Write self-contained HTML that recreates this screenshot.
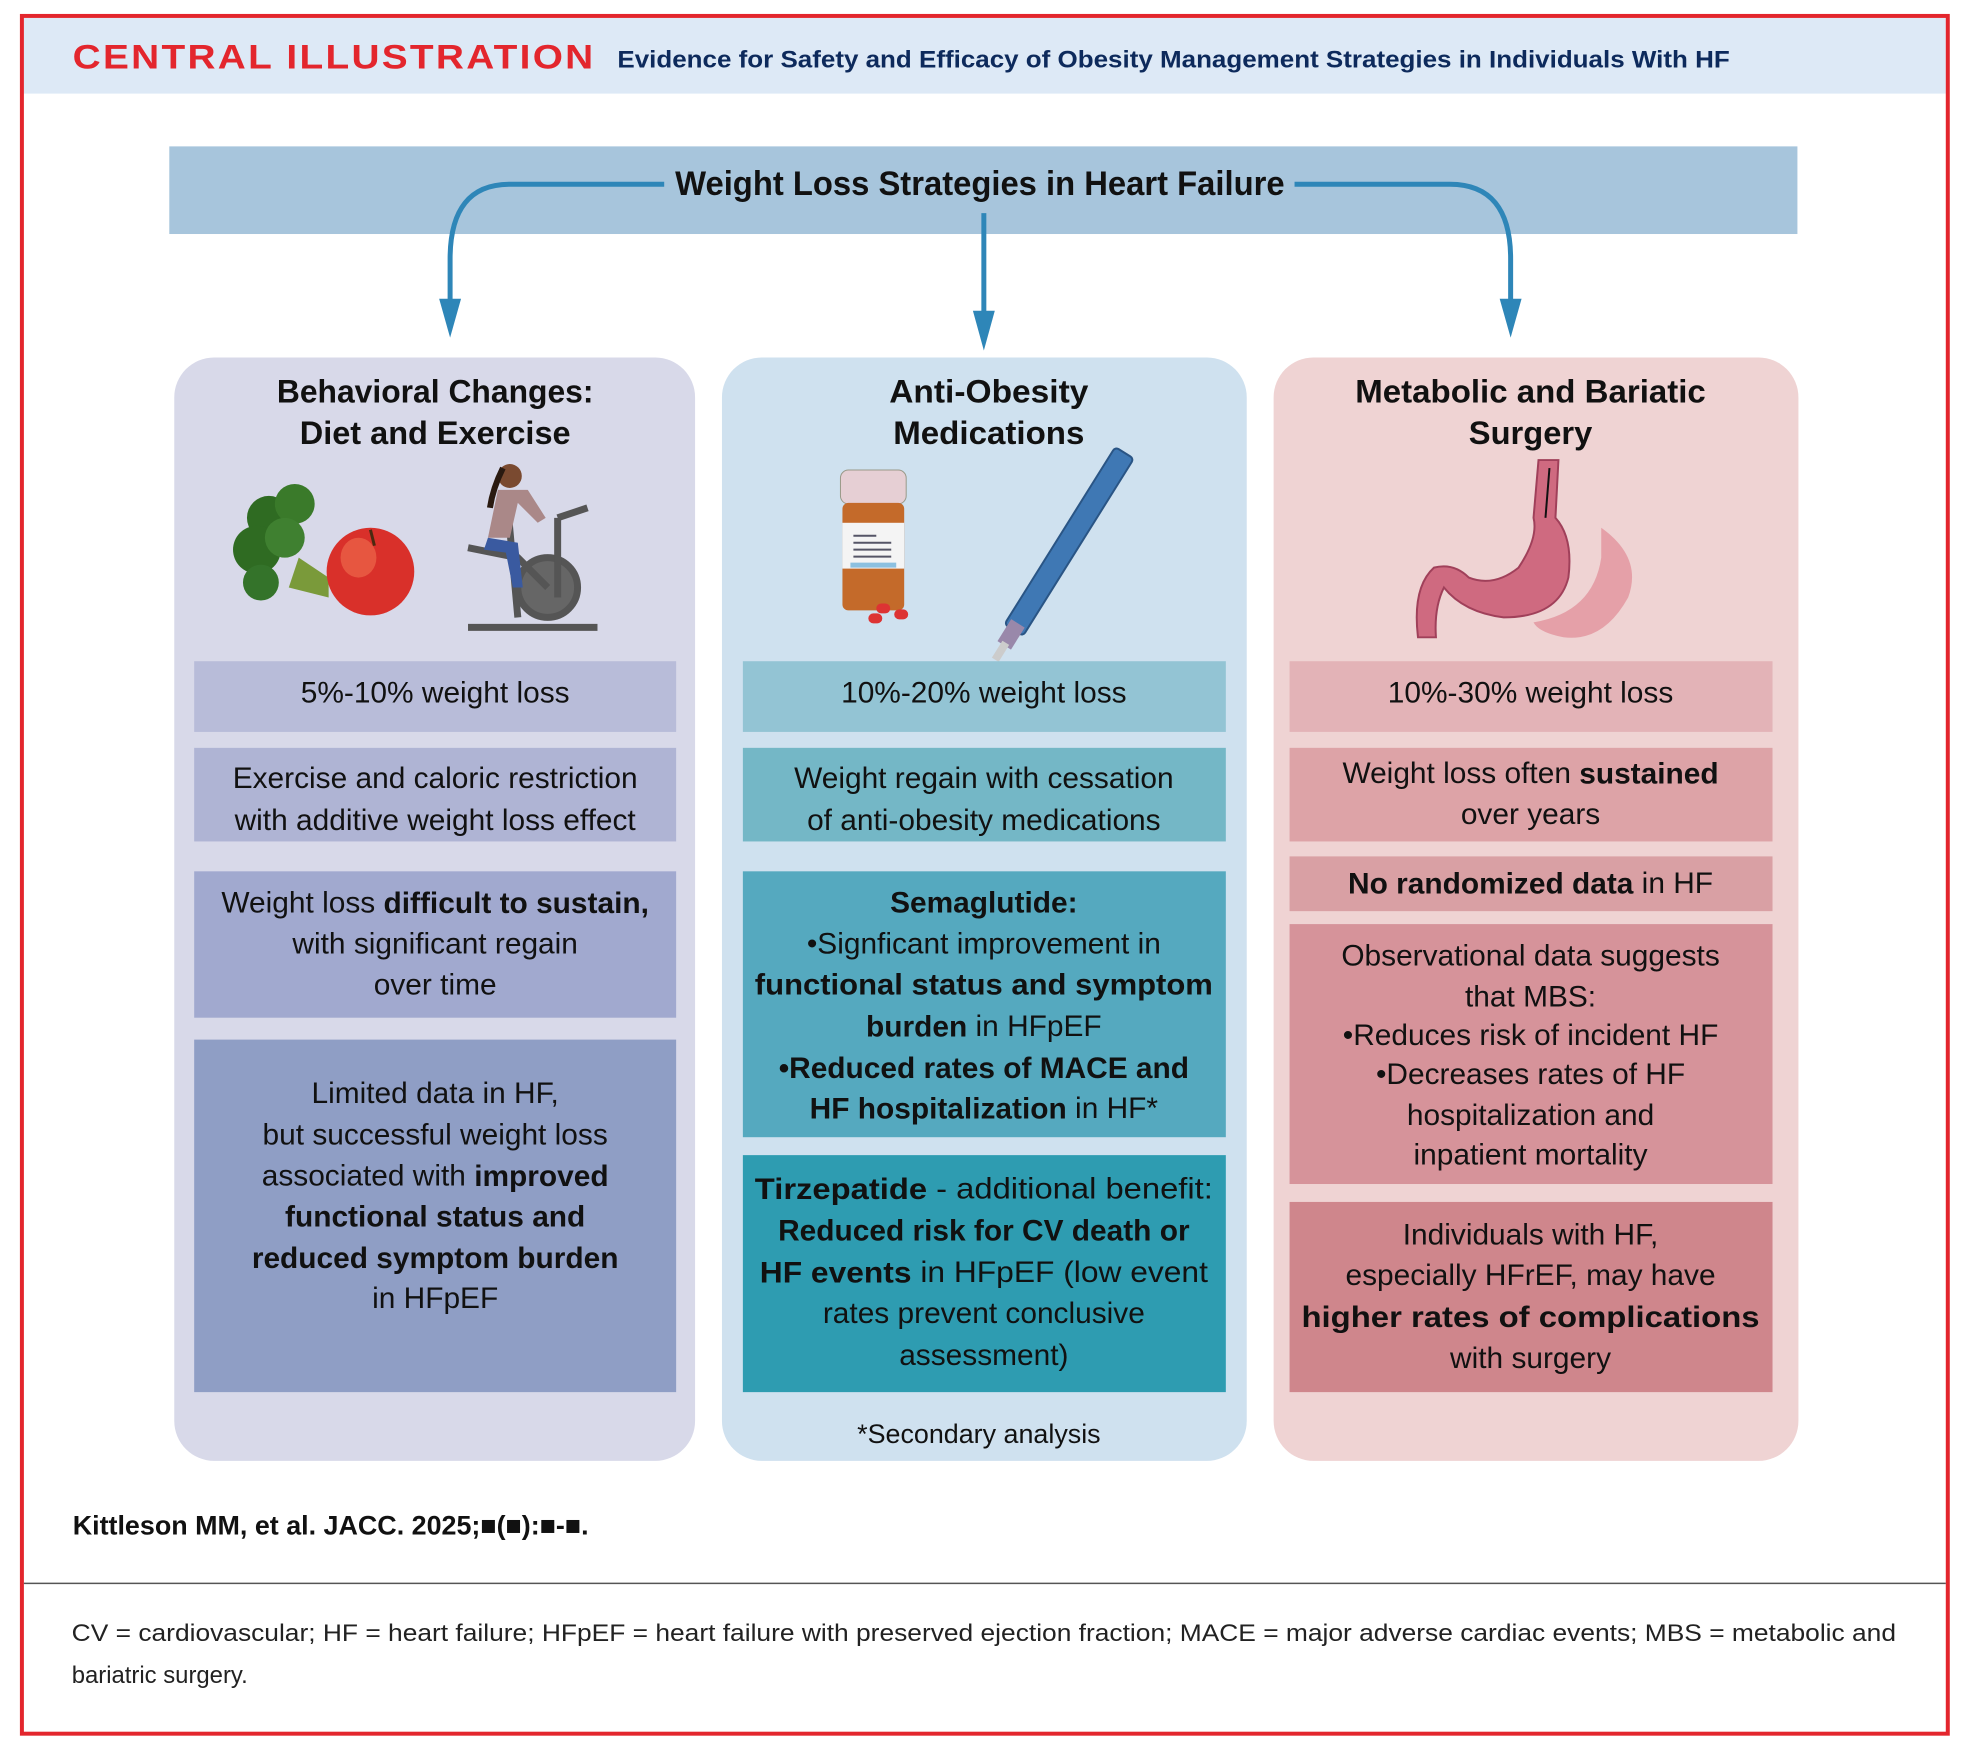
<!DOCTYPE html>
<html><head><meta charset="utf-8"><style>
html,body{margin:0;padding:0;background:#fff;}
svg{display:block;}
text{font-family:"Liberation Sans",sans-serif;}
</style></head><body>
<svg width="1973" height="1748" viewBox="0 0 1973 1748" xmlns="http://www.w3.org/2000/svg">
<rect x="0" y="0" width="1973" height="1748" fill="#fff"/>
<g transform="scale(0.9958)">
<!-- header -->
<rect x="24" y="18" width="1930" height="76" fill="#dde9f6"/>
<rect x="22" y="16" width="1934" height="1725" fill="none" stroke="#e3262d" stroke-width="4"/>
<text x="73" y="69" font-size="34" font-weight="bold" fill="#e3262d" textLength="525" lengthAdjust="spacingAndGlyphs" letter-spacing="2">CENTRAL ILLUSTRATION</text>
<text x="620" y="68" font-size="24" font-weight="bold" fill="#0d2a5c" textLength="1117" lengthAdjust="spacingAndGlyphs">Evidence for Safety and Efficacy of Obesity Management Strategies in Individuals With HF</text>

<!-- banner -->
<rect x="170" y="147" width="1635" height="88" fill="#a7c5dc"/>
<g fill="none" stroke="#2e86b8" stroke-width="5">
<path d="M667 185 H512 Q452 185 452 260 V305"/>
<path d="M1300 185 H1456 Q1517 185 1517 260 V305"/>
<path d="M988 214 V318"/>
</g>
<g fill="#2e86b8">
<polygon points="441,300 463,300 452,339"/>
<polygon points="1506,300 1528,300 1517,339"/>
<polygon points="977,312 999,312 988,352"/>
</g>
<text x="984" y="196" font-size="34" font-weight="bold" fill="#111" text-anchor="middle" textLength="612" lengthAdjust="spacingAndGlyphs">Weight Loss Strategies in Heart Failure</text>

<!-- panels -->
<rect x="175" y="359" width="523" height="1108" rx="40" fill="#d8d9e9"/>
<rect x="725" y="359" width="527" height="1108" rx="40" fill="#cfe1ef"/>
<rect x="1279" y="359" width="527" height="1108" rx="40" fill="#efd3d3"/>

<g font-size="33" font-weight="bold" fill="#111" text-anchor="middle">
<text x="437" y="404" textLength="318" lengthAdjust="spacingAndGlyphs">Behavioral Changes:</text>
<text x="437" y="446" textLength="272" lengthAdjust="spacingAndGlyphs">Diet and Exercise</text>
<text x="993" y="404" textLength="200" lengthAdjust="spacingAndGlyphs">Anti-Obesity</text>
<text x="993" y="446" textLength="192" lengthAdjust="spacingAndGlyphs">Medications</text>
<text x="1537" y="404" textLength="352" lengthAdjust="spacingAndGlyphs">Metabolic and Bariatic</text>
<text x="1537" y="446" textLength="124" lengthAdjust="spacingAndGlyphs">Surgery</text>
</g>

<!-- illustrations: broccoli + apple -->
<g>
<path d="M300 560 L330 580 L330 600 L290 590 Z" fill="#7a9a3a"/>
<circle cx="270" cy="520" r="22" fill="#2f6b22"/>
<circle cx="296" cy="506" r="20" fill="#3a7a2a"/>
<circle cx="258" cy="552" r="24" fill="#2f6b22"/>
<circle cx="262" cy="585" r="18" fill="#34732a"/>
<circle cx="286" cy="540" r="20" fill="#3f8030"/>
<ellipse cx="372" cy="574" rx="44" ry="44" fill="#d9302a"/>
<ellipse cx="360" cy="560" rx="18" ry="20" fill="#f07050" opacity=".6"/>
<path d="M372 532 L376 548" stroke="#4a2a10" stroke-width="3"/>
</g>
<!-- bike -->
<g stroke="#555" stroke-width="7" fill="none">
<circle cx="550" cy="590" r="30" fill="#666"/>
<path d="M470 550 L520 560 L550 590 M510 510 L520 620 M470 630 L600 630 M560 520 L560 600 M560 520 L590 510"/>
</g>
<circle cx="512" cy="478" r="12" fill="#7a4a30"/>
<path d="M500 492 L530 492 L548 520 L540 525 L520 505 L512 540 L490 540 Z" fill="#a88"/>
<path d="M490 540 L520 545 L525 590 L515 590 L508 555 L486 552 Z" fill="#3a5aa0"/>
<path d="M505 470 Q495 490 492 510" stroke="#2a1a10" stroke-width="6" fill="none"/>

<!-- pill bottle -->
<rect x="844" y="472" width="66" height="34" rx="8" fill="#e6cfd4" stroke="#998" stroke-width="1"/>
<rect x="846" y="505" width="62" height="108" rx="6" fill="#c46a2a"/>
<rect x="846" y="525" width="62" height="46" fill="#f4f4f4"/>
<g stroke="#556" stroke-width="2"><path d="M857 538 H880 M857 545 H895 M857 552 H895 M857 559 H895"/></g>
<rect x="854" y="565" width="46" height="5" fill="#8cc0e0"/>
<g fill="#d33"><rect x="880" y="606" width="14" height="10" rx="5"/><rect x="898" y="612" width="14" height="10" rx="5"/><rect x="872" y="616" width="14" height="10" rx="5"/></g>
<!-- pen -->
<g transform="translate(1071,548) rotate(-58)">
<rect x="-100" y="-11" width="210" height="22" rx="4" fill="#3f78b4" stroke="#2a5585" stroke-width="2"/>
<rect x="-118" y="-8" width="26" height="16" fill="#98a"/>
<rect x="-135" y="-4" width="20" height="8" fill="#ccc"/>
</g>

<!-- stomach -->
<g>
<path d="M1545 462 L1565 462 L1562 520 Q1580 540 1575 580 Q1565 620 1510 620 Q1470 615 1450 590 Q1440 610 1442 640 L1424 640 Q1418 590 1440 570 Q1460 565 1475 580 Q1500 590 1525 570 Q1545 540 1540 520 Z" fill="#cf6a80" stroke="#a0405a" stroke-width="2"/>
<path d="M1608 530 Q1650 560 1635 600 Q1610 645 1570 640 Q1545 635 1540 625 Q1600 615 1608 560 Z" fill="#e5a0a8"/>
<path d="M1556 470 L1552 520" stroke="#111" stroke-width="2"/>
</g>

<!-- left boxes -->
<rect x="195" y="664" width="484" height="71" fill="#b8bcd9"/>
<rect x="195" y="751" width="484" height="94" fill="#afb4d4"/>
<rect x="195" y="875" width="484" height="147" fill="#a1a9cf"/>
<rect x="195" y="1044" width="484" height="354" fill="#8f9ec5"/>
<!-- middle boxes -->
<rect x="746" y="664" width="485" height="71" fill="#93c4d4"/>
<rect x="746" y="751" width="485" height="94" fill="#74b7c6"/>
<rect x="746" y="875" width="485" height="267" fill="#55a9bf"/>
<rect x="746" y="1160" width="485" height="238" fill="#2e9cb1"/>
<!-- right boxes -->
<rect x="1295" y="664" width="485" height="71" fill="#e3b3b7"/>
<rect x="1295" y="751" width="485" height="94" fill="#dda3a7"/>
<rect x="1295" y="860" width="485" height="55" fill="#d9a0a4"/>
<rect x="1295" y="928" width="485" height="261" fill="#d6939a"/>
<rect x="1295" y="1207" width="485" height="191" fill="#cf868c"/>

<g font-size="30" fill="#111" text-anchor="middle" dominant-baseline="central">
<text x="437" y="696">5%-10% weight loss</text>
<text x="437" y="782">Exercise and caloric restriction</text>
<text x="437" y="824">with additive weight loss effect</text>
<text x="437" y="907">Weight loss <tspan font-weight="bold">difficult to sustain,</tspan></text>
<text x="437" y="948">with significant regain</text>
<text x="437" y="989">over time</text>
<text x="437" y="1098">Limited data in HF,</text>
<text x="437" y="1140">but successful weight loss</text>
<text x="437" y="1181">associated with <tspan font-weight="bold">improved</tspan></text>
<text x="437" y="1222" font-weight="bold">functional status and</text>
<text x="437" y="1264" font-weight="bold">reduced symptom burden</text>
<text x="437" y="1304">in HFpEF</text>
<text x="988" y="696">10%-20% weight loss</text>
<text x="988" y="782">Weight regain with cessation</text>
<text x="988" y="824">of anti-obesity medications</text>
<text x="988" y="907" font-weight="bold">Semaglutide:</text>
<text x="988" y="948">•Signficant improvement in</text>
<text x="988" y="989" font-weight="bold" textLength="460" lengthAdjust="spacingAndGlyphs">functional status and symptom</text>
<text x="988" y="1031"><tspan font-weight="bold">burden</tspan> in HFpEF</text>
<text x="988" y="1073" font-weight="bold">•Reduced rates of MACE and</text>
<text x="988" y="1113"><tspan font-weight="bold">HF hospitalization</tspan> in HF*</text>
<text x="988" y="1194" textLength="460" lengthAdjust="spacingAndGlyphs"><tspan font-weight="bold">Tirzepatide</tspan> - additional benefit:</text>
<text x="988" y="1236" font-weight="bold">Reduced risk for CV death or</text>
<text x="988" y="1278" textLength="450" lengthAdjust="spacingAndGlyphs"><tspan font-weight="bold">HF events</tspan> in HFpEF (low event</text>
<text x="988" y="1319">rates prevent conclusive</text>
<text x="988" y="1361">assessment)</text>
<text x="983" y="1440" font-size="27">*Secondary analysis</text>
<text x="1537" y="696">10%-30% weight loss</text>
<text x="1537" y="777">Weight loss often <tspan font-weight="bold">sustained</tspan></text>
<text x="1537" y="818">over years</text>
<text x="1537" y="887"><tspan font-weight="bold">No randomized data</tspan> in HF</text>
<text x="1537" y="960">Observational data suggests</text>
<text x="1537" y="1001">that MBS:</text>
<text x="1537" y="1040">•Reduces risk of incident HF</text>
<text x="1537" y="1079">•Decreases rates of HF</text>
<text x="1537" y="1120">hospitalization and</text>
<text x="1537" y="1160">inpatient mortality</text>
<text x="1537" y="1240">Individuals with HF,</text>
<text x="1537" y="1281">especially HFrEF, may have</text>
<text x="1537" y="1323" font-weight="bold" textLength="460" lengthAdjust="spacingAndGlyphs">higher rates of complications</text>
<text x="1537" y="1364">with surgery</text>
</g>

<text x="73" y="1541" font-size="27" font-weight="bold" fill="#111">Kittleson MM, et al. JACC. 2025;■(■):■-■.</text>
<line x1="24" y1="1590" x2="1954" y2="1590" stroke="#555" stroke-width="1.5"/>
<g font-size="24" fill="#222">
<text x="72" y="1648" textLength="1832" lengthAdjust="spacingAndGlyphs">CV = cardiovascular; HF = heart failure; HFpEF = heart failure with preserved ejection fraction; MACE = major adverse cardiac events; MBS = metabolic and</text>
<text x="72" y="1690">bariatric surgery.</text>
</g>
</g>
</svg>
</body></html>
